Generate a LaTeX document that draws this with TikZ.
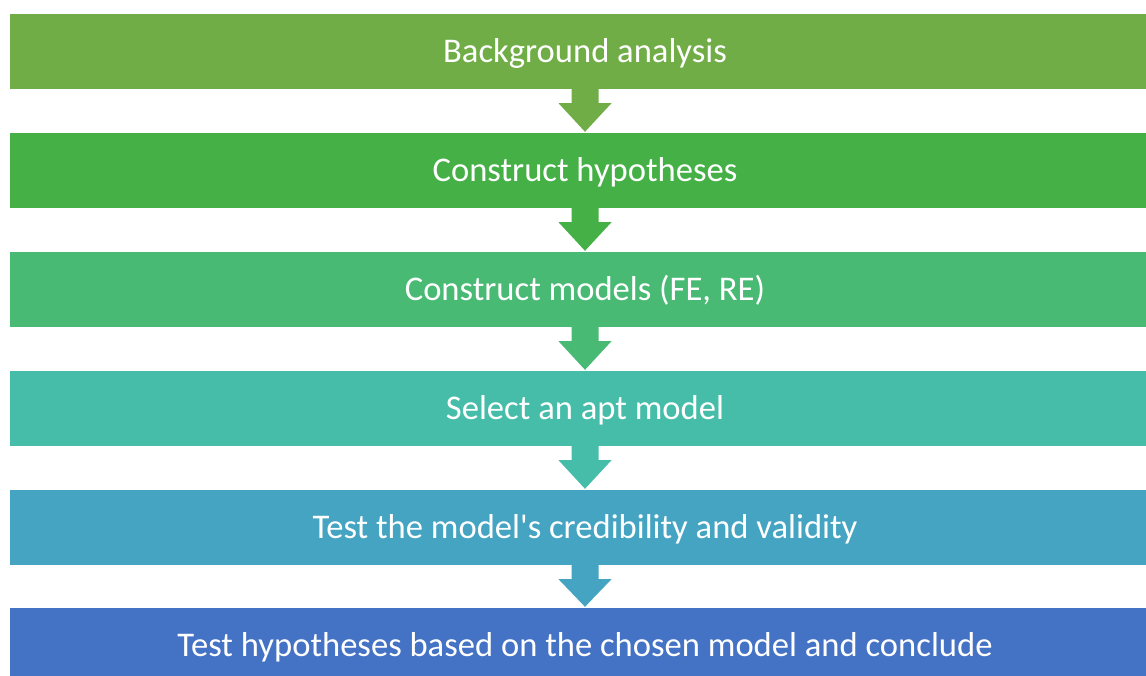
\documentclass[tikz,border=0pt]{standalone}
\usepackage{fontspec}
\setmainfont{Carlito}
\usetikzlibrary{calc}
\definecolor{c1}{HTML}{70AD47}
\definecolor{c2}{HTML}{45B045}
\definecolor{c3}{HTML}{48BA74}
\definecolor{c4}{HTML}{46BDA8}
\definecolor{c5}{HTML}{44A4C2}
\definecolor{c6}{HTML}{4472C4}
\tikzset{
  stepbox/.style={rectangle, inner sep=0pt, minimum width=1150pt, minimum height=75pt,
    text height=29pt, text depth=7pt,
    text=white, font=\fontsize{34.6}{40}\selectfont},
}
% block arrow between two stacked boxes, filled with the colour of the upper box
\newcommand{\flowarrow}[3]{%
  \fill[#3] ($(#1.south)+(-13.5,0)$) -- ++(0,14) -- ++(-13,0) -- ($(#2.north)+(0,-1)$)
    -- ($(#1.south)+(26.5,14)$) -- ++(-13,0) -- ($(#1.south)+(13.5,0)$) -- cycle;}
\begin{document}
\begin{tikzpicture}[x=1pt,y=-1pt]
\useasboundingbox (0,0) rectangle (1146,675);
\begin{scope}
\clip (0,0) rectangle (1146,675);
\node[stepbox, fill=c1] (b1) at (585,51.5) {Background analysis};
\node[stepbox, fill=c2] (b2) at (585,170.5) {Construct hypotheses};
\node[stepbox, fill=c3] (b3) at (585,289.5) {Construct models (FE, RE)};
\node[stepbox, fill=c4] (b4) at (585,408.5) {Select an apt model};
\node[stepbox, fill=c5] (b5) at (585,527.5) {Test the model\textquotesingle s credibility and validity};
\node[stepbox, fill=c6] (b6) at (585,645.5) {Test hypotheses based on the chosen model and conclude};
\flowarrow{b1}{b2}{c1}
\flowarrow{b2}{b3}{c2}
\flowarrow{b3}{b4}{c3}
\flowarrow{b4}{b5}{c4}
\flowarrow{b5}{b6}{c5}
\end{scope}
\end{tikzpicture}
\end{document}
